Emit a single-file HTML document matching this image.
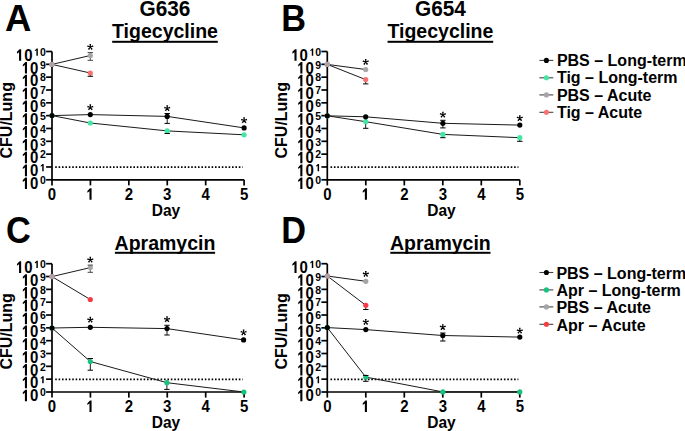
<!DOCTYPE html>
<html><head><meta charset="utf-8"><style>
html,body{margin:0;padding:0;background:#fff;overflow:hidden;}
svg{display:block;}
text{font-family:"Liberation Sans", sans-serif;font-weight:bold;fill:#000;}
</style></head><body>
<svg width="685" height="431" viewBox="0 0 685 431">
<rect width="685" height="431" fill="#fff"/>
<text x="4.95" y="31.3" font-size="36.5">A</text>
<text transform="translate(165 15.5) scale(1.0 1.04)" font-size="20.8" text-anchor="middle">G636</text>
<text x="165" y="38" font-size="19.5" text-anchor="middle">Tigecycline</text>
<rect x="112.19" y="40.8" width="105.61" height="2.0" fill="#000"/>
<g stroke="#000" stroke-width="1.7" fill="none">
<path d="M52 51.5V179.8H244.1"/>
<path d="M46.1 179.8H52"/>
<path d="M46.1 166.97H52"/>
<path d="M46.1 154.14H52"/>
<path d="M46.1 141.31H52"/>
<path d="M46.1 128.48H52"/>
<path d="M46.1 115.65H52"/>
<path d="M46.1 102.82H52"/>
<path d="M46.1 89.99H52"/>
<path d="M46.1 77.16H52"/>
<path d="M46.1 64.33H52"/>
<path d="M46.1 51.5H52"/>
<path d="M52 179.8V185.4"/>
<path d="M90.42 179.8V185.4"/>
<path d="M128.84 179.8V185.4"/>
<path d="M167.26 179.8V185.4"/>
<path d="M205.68 179.8V185.4"/>
<path d="M244.1 179.8V185.4"/>
</g>
<path d="M55.2 167.17H242.7" stroke="#000" stroke-width="1.6" stroke-dasharray="1.6 1.8"/>
<text x="39.96" y="184" font-size="10.5">0</text>
<path transform="translate(21.68 189) scale(15 -16.8)" d="M0.355 0L0.355 0.688L0.25 0.688L0.075 0.53L0.075 0.42L0.215 0.51L0.215 0Z"/>
<text transform="translate(30.02 189) scale(1.0 1.12)" font-size="15">0</text>
<path transform="translate(39.96 171.17) scale(10.5 -10.5)" d="M0.355 0L0.355 0.688L0.25 0.688L0.075 0.53L0.075 0.42L0.215 0.51L0.215 0Z"/>
<path transform="translate(21.68 176.17) scale(15 -16.8)" d="M0.355 0L0.355 0.688L0.25 0.688L0.075 0.53L0.075 0.42L0.215 0.51L0.215 0Z"/>
<text transform="translate(30.02 176.17) scale(1.0 1.12)" font-size="15">0</text>
<text x="39.96" y="158.34" font-size="10.5">2</text>
<path transform="translate(21.68 163.34) scale(15 -16.8)" d="M0.355 0L0.355 0.688L0.25 0.688L0.075 0.53L0.075 0.42L0.215 0.51L0.215 0Z"/>
<text transform="translate(30.02 163.34) scale(1.0 1.12)" font-size="15">0</text>
<text x="39.96" y="145.51" font-size="10.5">3</text>
<path transform="translate(21.68 150.51) scale(15 -16.8)" d="M0.355 0L0.355 0.688L0.25 0.688L0.075 0.53L0.075 0.42L0.215 0.51L0.215 0Z"/>
<text transform="translate(30.02 150.51) scale(1.0 1.12)" font-size="15">0</text>
<text x="39.96" y="132.68" font-size="10.5">4</text>
<path transform="translate(21.68 137.68) scale(15 -16.8)" d="M0.355 0L0.355 0.688L0.25 0.688L0.075 0.53L0.075 0.42L0.215 0.51L0.215 0Z"/>
<text transform="translate(30.02 137.68) scale(1.0 1.12)" font-size="15">0</text>
<text x="39.96" y="119.85" font-size="10.5">5</text>
<path transform="translate(21.68 124.85) scale(15 -16.8)" d="M0.355 0L0.355 0.688L0.25 0.688L0.075 0.53L0.075 0.42L0.215 0.51L0.215 0Z"/>
<text transform="translate(30.02 124.85) scale(1.0 1.12)" font-size="15">0</text>
<text x="39.96" y="107.02" font-size="10.5">6</text>
<path transform="translate(21.68 112.02) scale(15 -16.8)" d="M0.355 0L0.355 0.688L0.25 0.688L0.075 0.53L0.075 0.42L0.215 0.51L0.215 0Z"/>
<text transform="translate(30.02 112.02) scale(1.0 1.12)" font-size="15">0</text>
<text x="39.96" y="94.19" font-size="10.5">7</text>
<path transform="translate(21.68 99.19) scale(15 -16.8)" d="M0.355 0L0.355 0.688L0.25 0.688L0.075 0.53L0.075 0.42L0.215 0.51L0.215 0Z"/>
<text transform="translate(30.02 99.19) scale(1.0 1.12)" font-size="15">0</text>
<text x="39.96" y="81.36" font-size="10.5">8</text>
<path transform="translate(21.68 86.36) scale(15 -16.8)" d="M0.355 0L0.355 0.688L0.25 0.688L0.075 0.53L0.075 0.42L0.215 0.51L0.215 0Z"/>
<text transform="translate(30.02 86.36) scale(1.0 1.12)" font-size="15">0</text>
<text x="39.96" y="68.53" font-size="10.5">9</text>
<path transform="translate(21.68 73.53) scale(15 -16.8)" d="M0.355 0L0.355 0.688L0.25 0.688L0.075 0.53L0.075 0.42L0.215 0.51L0.215 0Z"/>
<text transform="translate(30.02 73.53) scale(1.0 1.12)" font-size="15">0</text>
<path transform="translate(34.12 55.7) scale(10.5 -10.5)" d="M0.355 0L0.355 0.688L0.25 0.688L0.075 0.53L0.075 0.42L0.215 0.51L0.215 0Z"/>
<text x="39.96" y="55.7" font-size="10.5">0</text>
<path transform="translate(15.84 60.7) scale(15 -16.8)" d="M0.355 0L0.355 0.688L0.25 0.688L0.075 0.53L0.075 0.42L0.215 0.51L0.215 0Z"/>
<text transform="translate(24.18 60.7) scale(1.0 1.12)" font-size="15">0</text>
<text transform="translate(47.83 199.7) scale(1.0 1.1)" font-size="15">0</text>
<path transform="translate(86.25 199.7) scale(15 -16.5)" d="M0.355 0L0.355 0.688L0.25 0.688L0.075 0.53L0.075 0.42L0.215 0.51L0.215 0Z"/>
<text transform="translate(124.67 199.7) scale(1.0 1.1)" font-size="15">2</text>
<text transform="translate(163.09 199.7) scale(1.0 1.1)" font-size="15">3</text>
<text transform="translate(201.51 199.7) scale(1.0 1.1)" font-size="15">4</text>
<text transform="translate(239.93 199.7) scale(1.0 1.1)" font-size="15">5</text>
<text transform="translate(166 215.6) scale(1.0 1.06)" font-size="15.5" text-anchor="middle">Day</text>
<text transform="translate(11.6 120.3) rotate(-90)" font-size="16" text-anchor="middle">CFU/Lung</text>
<path d="M90.3 52.6V60.3" stroke="#444" stroke-width="0.9"/>
<path d="M90.3 73V76.3" stroke="#000" stroke-width="0.9"/>
<path d="M167.2 113.5V123.4" stroke="#000" stroke-width="0.9"/>
<path d="M167.2 130.9V133.5" stroke="#000" stroke-width="0.9"/>
<path d="M52 115.6 L90.3 123 L167.2 130.9 L244.1 134.8" stroke="#1a1a1a" stroke-width="1" fill="none"/>
<path d="M52 115.6 L90.3 114.6 L167.2 116.4 L244.1 127.9" stroke="#1a1a1a" stroke-width="1" fill="none"/>
<path d="M52 64.4 L90.3 73" stroke="#1a1a1a" stroke-width="1" fill="none"/>
<path d="M52 64.4 L90.3 55.5" stroke="#1a1a1a" stroke-width="1" fill="none"/>
<circle cx="52" cy="115.6" r="2.6" fill="#44e6a6"/>
<circle cx="90.3" cy="123" r="2.6" fill="#44e6a6"/>
<circle cx="167.2" cy="130.9" r="2.6" fill="#44e6a6"/>
<circle cx="244.1" cy="134.8" r="2.6" fill="#44e6a6"/>
<circle cx="52" cy="115.6" r="2.6" fill="#000"/>
<circle cx="90.3" cy="114.6" r="2.6" fill="#000"/>
<circle cx="167.2" cy="116.4" r="2.6" fill="#000"/>
<circle cx="244.1" cy="127.9" r="2.6" fill="#000"/>
<circle cx="52" cy="64.4" r="2.6" fill="#f9706f"/>
<circle cx="90.3" cy="73" r="2.6" fill="#f9706f"/>
<circle cx="52" cy="64.4" r="2.6" fill="#a5a5aa"/>
<circle cx="90.3" cy="55.5" r="2.6" fill="#a5a5aa"/>
<path d="M87.6 52.6H93M87.6 60.3H93" stroke="#444" stroke-width="1"/>
<path d="M87.6 76.3H93" stroke="#000" stroke-width="1"/>
<path d="M164.5 113.5H169.9M164.5 123.4H169.9" stroke="#000" stroke-width="1"/>
<path d="M164.5 133.5H169.9" stroke="#000" stroke-width="1"/>
<path d="M90.65 47L91.15 43.95L89.45 43.95L89.95 47ZM90.41 47.33L93.46 46.87L92.94 45.25L90.19 46.67ZM90.02 47.21L91.41 49.97L92.78 48.97L90.58 46.79ZM90.02 46.79L87.82 48.97L89.19 49.97L90.58 47.21ZM90.41 46.67L87.66 45.25L87.14 46.87L90.19 47.33Z" fill="#000"/>
<path d="M90.65 107.4L91.15 104.35L89.45 104.35L89.95 107.4ZM90.41 107.73L93.46 107.27L92.94 105.65L90.19 107.07ZM90.02 107.61L91.41 110.37L92.78 109.37L90.58 107.19ZM90.02 107.19L87.82 109.37L89.19 110.37L90.58 107.61ZM90.41 107.07L87.66 105.65L87.14 107.27L90.19 107.73Z" fill="#000"/>
<path d="M167.55 108.4L168.05 105.35L166.35 105.35L166.85 108.4ZM167.31 108.73L170.36 108.27L169.84 106.65L167.09 108.07ZM166.92 108.61L168.31 111.37L169.68 110.37L167.48 108.19ZM166.92 108.19L164.72 110.37L166.09 111.37L167.48 108.61ZM167.31 108.07L164.56 106.65L164.04 108.27L167.09 108.73Z" fill="#000"/>
<path d="M244.45 120.4L244.95 117.35L243.25 117.35L243.75 120.4ZM244.21 120.73L247.26 120.27L246.74 118.65L243.99 120.07ZM243.82 120.61L245.21 123.37L246.58 122.37L244.38 120.19ZM243.82 120.19L241.62 122.37L242.99 123.37L244.38 120.61ZM244.21 120.07L241.46 118.65L240.94 120.27L243.99 120.73Z" fill="#000"/>
<text transform="translate(281.3 31.3) scale(0.94 1.0)" font-size="36.5">B</text>
<text transform="translate(440.4 15.5) scale(1.0 1.04)" font-size="20.8" text-anchor="middle">G654</text>
<text x="440.4" y="38" font-size="19.5" text-anchor="middle">Tigecycline</text>
<rect x="387.59" y="40.8" width="105.61" height="2.0" fill="#000"/>
<g stroke="#000" stroke-width="1.7" fill="none">
<path d="M327.3 51.5V179.8H519.8"/>
<path d="M321.4 179.8H327.3"/>
<path d="M321.4 166.97H327.3"/>
<path d="M321.4 154.14H327.3"/>
<path d="M321.4 141.31H327.3"/>
<path d="M321.4 128.48H327.3"/>
<path d="M321.4 115.65H327.3"/>
<path d="M321.4 102.82H327.3"/>
<path d="M321.4 89.99H327.3"/>
<path d="M321.4 77.16H327.3"/>
<path d="M321.4 64.33H327.3"/>
<path d="M321.4 51.5H327.3"/>
<path d="M327.3 179.8V185.4"/>
<path d="M365.8 179.8V185.4"/>
<path d="M404.3 179.8V185.4"/>
<path d="M442.8 179.8V185.4"/>
<path d="M481.3 179.8V185.4"/>
<path d="M519.8 179.8V185.4"/>
</g>
<path d="M330.5 167.17H518.4" stroke="#000" stroke-width="1.6" stroke-dasharray="1.6 1.8"/>
<text x="315.36" y="184" font-size="10.5">0</text>
<path transform="translate(297.08 189) scale(15 -16.8)" d="M0.355 0L0.355 0.688L0.25 0.688L0.075 0.53L0.075 0.42L0.215 0.51L0.215 0Z"/>
<text transform="translate(305.42 189) scale(1.0 1.12)" font-size="15">0</text>
<path transform="translate(315.36 171.17) scale(10.5 -10.5)" d="M0.355 0L0.355 0.688L0.25 0.688L0.075 0.53L0.075 0.42L0.215 0.51L0.215 0Z"/>
<path transform="translate(297.08 176.17) scale(15 -16.8)" d="M0.355 0L0.355 0.688L0.25 0.688L0.075 0.53L0.075 0.42L0.215 0.51L0.215 0Z"/>
<text transform="translate(305.42 176.17) scale(1.0 1.12)" font-size="15">0</text>
<text x="315.36" y="158.34" font-size="10.5">2</text>
<path transform="translate(297.08 163.34) scale(15 -16.8)" d="M0.355 0L0.355 0.688L0.25 0.688L0.075 0.53L0.075 0.42L0.215 0.51L0.215 0Z"/>
<text transform="translate(305.42 163.34) scale(1.0 1.12)" font-size="15">0</text>
<text x="315.36" y="145.51" font-size="10.5">3</text>
<path transform="translate(297.08 150.51) scale(15 -16.8)" d="M0.355 0L0.355 0.688L0.25 0.688L0.075 0.53L0.075 0.42L0.215 0.51L0.215 0Z"/>
<text transform="translate(305.42 150.51) scale(1.0 1.12)" font-size="15">0</text>
<text x="315.36" y="132.68" font-size="10.5">4</text>
<path transform="translate(297.08 137.68) scale(15 -16.8)" d="M0.355 0L0.355 0.688L0.25 0.688L0.075 0.53L0.075 0.42L0.215 0.51L0.215 0Z"/>
<text transform="translate(305.42 137.68) scale(1.0 1.12)" font-size="15">0</text>
<text x="315.36" y="119.85" font-size="10.5">5</text>
<path transform="translate(297.08 124.85) scale(15 -16.8)" d="M0.355 0L0.355 0.688L0.25 0.688L0.075 0.53L0.075 0.42L0.215 0.51L0.215 0Z"/>
<text transform="translate(305.42 124.85) scale(1.0 1.12)" font-size="15">0</text>
<text x="315.36" y="107.02" font-size="10.5">6</text>
<path transform="translate(297.08 112.02) scale(15 -16.8)" d="M0.355 0L0.355 0.688L0.25 0.688L0.075 0.53L0.075 0.42L0.215 0.51L0.215 0Z"/>
<text transform="translate(305.42 112.02) scale(1.0 1.12)" font-size="15">0</text>
<text x="315.36" y="94.19" font-size="10.5">7</text>
<path transform="translate(297.08 99.19) scale(15 -16.8)" d="M0.355 0L0.355 0.688L0.25 0.688L0.075 0.53L0.075 0.42L0.215 0.51L0.215 0Z"/>
<text transform="translate(305.42 99.19) scale(1.0 1.12)" font-size="15">0</text>
<text x="315.36" y="81.36" font-size="10.5">8</text>
<path transform="translate(297.08 86.36) scale(15 -16.8)" d="M0.355 0L0.355 0.688L0.25 0.688L0.075 0.53L0.075 0.42L0.215 0.51L0.215 0Z"/>
<text transform="translate(305.42 86.36) scale(1.0 1.12)" font-size="15">0</text>
<text x="315.36" y="68.53" font-size="10.5">9</text>
<path transform="translate(297.08 73.53) scale(15 -16.8)" d="M0.355 0L0.355 0.688L0.25 0.688L0.075 0.53L0.075 0.42L0.215 0.51L0.215 0Z"/>
<text transform="translate(305.42 73.53) scale(1.0 1.12)" font-size="15">0</text>
<path transform="translate(309.52 55.7) scale(10.5 -10.5)" d="M0.355 0L0.355 0.688L0.25 0.688L0.075 0.53L0.075 0.42L0.215 0.51L0.215 0Z"/>
<text x="315.36" y="55.7" font-size="10.5">0</text>
<path transform="translate(291.24 60.7) scale(15 -16.8)" d="M0.355 0L0.355 0.688L0.25 0.688L0.075 0.53L0.075 0.42L0.215 0.51L0.215 0Z"/>
<text transform="translate(299.58 60.7) scale(1.0 1.12)" font-size="15">0</text>
<text transform="translate(323.13 199.7) scale(1.0 1.1)" font-size="15">0</text>
<path transform="translate(361.63 199.7) scale(15 -16.5)" d="M0.355 0L0.355 0.688L0.25 0.688L0.075 0.53L0.075 0.42L0.215 0.51L0.215 0Z"/>
<text transform="translate(400.13 199.7) scale(1.0 1.1)" font-size="15">2</text>
<text transform="translate(438.63 199.7) scale(1.0 1.1)" font-size="15">3</text>
<text transform="translate(477.13 199.7) scale(1.0 1.1)" font-size="15">4</text>
<text transform="translate(515.63 199.7) scale(1.0 1.1)" font-size="15">5</text>
<text transform="translate(441.4 215.6) scale(1.0 1.06)" font-size="15.5" text-anchor="middle">Day</text>
<text transform="translate(287 120.3) rotate(-90)" font-size="16" text-anchor="middle">CFU/Lung</text>
<path d="M365.7 79.6V83.9" stroke="#000" stroke-width="0.9"/>
<path d="M365.7 121.7V128.3" stroke="#000" stroke-width="0.9"/>
<path d="M442.9 120.3V127.9" stroke="#000" stroke-width="0.9"/>
<path d="M442.9 134.4V137.7" stroke="#000" stroke-width="0.9"/>
<path d="M519.8 137.7V141.3" stroke="#000" stroke-width="0.9"/>
<path d="M327.3 115.8 L365.7 121.7 L442.9 134.4 L519.8 137.7" stroke="#1a1a1a" stroke-width="1" fill="none"/>
<path d="M327.3 115.8 L365.7 116.8 L442.9 123.3 L519.8 125.1" stroke="#1a1a1a" stroke-width="1" fill="none"/>
<path d="M327.3 64.4 L365.7 79.6" stroke="#1a1a1a" stroke-width="1" fill="none"/>
<path d="M327.3 64.4 L365.7 69.5" stroke="#1a1a1a" stroke-width="1" fill="none"/>
<circle cx="327.3" cy="115.8" r="2.6" fill="#44e6a6"/>
<circle cx="365.7" cy="121.7" r="2.6" fill="#44e6a6"/>
<circle cx="442.9" cy="134.4" r="2.6" fill="#44e6a6"/>
<circle cx="519.8" cy="137.7" r="2.6" fill="#44e6a6"/>
<circle cx="327.3" cy="115.8" r="2.6" fill="#000"/>
<circle cx="365.7" cy="116.8" r="2.6" fill="#000"/>
<circle cx="442.9" cy="123.3" r="2.6" fill="#000"/>
<circle cx="519.8" cy="125.1" r="2.6" fill="#000"/>
<circle cx="327.3" cy="64.4" r="2.6" fill="#f9706f"/>
<circle cx="365.7" cy="79.6" r="2.6" fill="#f9706f"/>
<circle cx="327.3" cy="64.4" r="2.6" fill="#a5a5aa"/>
<circle cx="365.7" cy="69.5" r="2.6" fill="#a5a5aa"/>
<path d="M363 83.9H368.4" stroke="#000" stroke-width="1"/>
<path d="M363 128.3H368.4" stroke="#000" stroke-width="1"/>
<path d="M440.2 120.3H445.6M440.2 127.9H445.6" stroke="#000" stroke-width="1"/>
<path d="M440.2 137.7H445.6" stroke="#000" stroke-width="1"/>
<path d="M517.1 141.3H522.5" stroke="#000" stroke-width="1"/>
<path d="M366.05 62L366.55 58.95L364.85 58.95L365.35 62ZM365.81 62.33L368.86 61.87L368.34 60.25L365.59 61.67ZM365.42 62.21L366.81 64.97L368.18 63.97L365.98 61.79ZM365.42 61.79L363.22 63.97L364.59 64.97L365.98 62.21ZM365.81 61.67L363.06 60.25L362.54 61.87L365.59 62.33Z" fill="#000"/>
<path d="M443.25 114.7L443.75 111.65L442.05 111.65L442.55 114.7ZM443.01 115.03L446.06 114.57L445.54 112.95L442.79 114.37ZM442.62 114.91L444.01 117.67L445.38 116.67L443.18 114.49ZM442.62 114.49L440.42 116.67L441.79 117.67L443.18 114.91ZM443.01 114.37L440.26 112.95L439.74 114.57L442.79 115.03Z" fill="#000"/>
<path d="M520.15 118.2L520.65 115.15L518.95 115.15L519.45 118.2ZM519.91 118.53L522.96 118.07L522.44 116.45L519.69 117.87ZM519.52 118.41L520.91 121.17L522.28 120.17L520.08 117.99ZM519.52 117.99L517.32 120.17L518.69 121.17L520.08 118.41ZM519.91 117.87L517.16 116.45L516.64 118.07L519.69 118.53Z" fill="#000"/>
<text transform="translate(5.9 243) scale(0.94 1.0)" font-size="36.5">C</text>
<text x="165" y="250.2" font-size="19.5" text-anchor="middle">Apramycin</text>
<rect x="114.91" y="251.8" width="100.18" height="2.0" fill="#000"/>
<g stroke="#000" stroke-width="1.7" fill="none">
<path d="M52 263.7V392H244.1"/>
<path d="M46.1 392H52"/>
<path d="M46.1 379.17H52"/>
<path d="M46.1 366.34H52"/>
<path d="M46.1 353.51H52"/>
<path d="M46.1 340.68H52"/>
<path d="M46.1 327.85H52"/>
<path d="M46.1 315.02H52"/>
<path d="M46.1 302.19H52"/>
<path d="M46.1 289.36H52"/>
<path d="M46.1 276.53H52"/>
<path d="M46.1 263.7H52"/>
<path d="M52 392V397.6"/>
<path d="M90.42 392V397.6"/>
<path d="M128.84 392V397.6"/>
<path d="M167.26 392V397.6"/>
<path d="M205.68 392V397.6"/>
<path d="M244.1 392V397.6"/>
</g>
<path d="M55.2 379.37H242.7" stroke="#000" stroke-width="1.6" stroke-dasharray="1.6 1.8"/>
<text x="39.96" y="396.2" font-size="10.5">0</text>
<path transform="translate(21.68 401.2) scale(15 -16.8)" d="M0.355 0L0.355 0.688L0.25 0.688L0.075 0.53L0.075 0.42L0.215 0.51L0.215 0Z"/>
<text transform="translate(30.02 401.2) scale(1.0 1.12)" font-size="15">0</text>
<path transform="translate(39.96 383.37) scale(10.5 -10.5)" d="M0.355 0L0.355 0.688L0.25 0.688L0.075 0.53L0.075 0.42L0.215 0.51L0.215 0Z"/>
<path transform="translate(21.68 388.37) scale(15 -16.8)" d="M0.355 0L0.355 0.688L0.25 0.688L0.075 0.53L0.075 0.42L0.215 0.51L0.215 0Z"/>
<text transform="translate(30.02 388.37) scale(1.0 1.12)" font-size="15">0</text>
<text x="39.96" y="370.54" font-size="10.5">2</text>
<path transform="translate(21.68 375.54) scale(15 -16.8)" d="M0.355 0L0.355 0.688L0.25 0.688L0.075 0.53L0.075 0.42L0.215 0.51L0.215 0Z"/>
<text transform="translate(30.02 375.54) scale(1.0 1.12)" font-size="15">0</text>
<text x="39.96" y="357.71" font-size="10.5">3</text>
<path transform="translate(21.68 362.71) scale(15 -16.8)" d="M0.355 0L0.355 0.688L0.25 0.688L0.075 0.53L0.075 0.42L0.215 0.51L0.215 0Z"/>
<text transform="translate(30.02 362.71) scale(1.0 1.12)" font-size="15">0</text>
<text x="39.96" y="344.88" font-size="10.5">4</text>
<path transform="translate(21.68 349.88) scale(15 -16.8)" d="M0.355 0L0.355 0.688L0.25 0.688L0.075 0.53L0.075 0.42L0.215 0.51L0.215 0Z"/>
<text transform="translate(30.02 349.88) scale(1.0 1.12)" font-size="15">0</text>
<text x="39.96" y="332.05" font-size="10.5">5</text>
<path transform="translate(21.68 337.05) scale(15 -16.8)" d="M0.355 0L0.355 0.688L0.25 0.688L0.075 0.53L0.075 0.42L0.215 0.51L0.215 0Z"/>
<text transform="translate(30.02 337.05) scale(1.0 1.12)" font-size="15">0</text>
<text x="39.96" y="319.22" font-size="10.5">6</text>
<path transform="translate(21.68 324.22) scale(15 -16.8)" d="M0.355 0L0.355 0.688L0.25 0.688L0.075 0.53L0.075 0.42L0.215 0.51L0.215 0Z"/>
<text transform="translate(30.02 324.22) scale(1.0 1.12)" font-size="15">0</text>
<text x="39.96" y="306.39" font-size="10.5">7</text>
<path transform="translate(21.68 311.39) scale(15 -16.8)" d="M0.355 0L0.355 0.688L0.25 0.688L0.075 0.53L0.075 0.42L0.215 0.51L0.215 0Z"/>
<text transform="translate(30.02 311.39) scale(1.0 1.12)" font-size="15">0</text>
<text x="39.96" y="293.56" font-size="10.5">8</text>
<path transform="translate(21.68 298.56) scale(15 -16.8)" d="M0.355 0L0.355 0.688L0.25 0.688L0.075 0.53L0.075 0.42L0.215 0.51L0.215 0Z"/>
<text transform="translate(30.02 298.56) scale(1.0 1.12)" font-size="15">0</text>
<text x="39.96" y="280.73" font-size="10.5">9</text>
<path transform="translate(21.68 285.73) scale(15 -16.8)" d="M0.355 0L0.355 0.688L0.25 0.688L0.075 0.53L0.075 0.42L0.215 0.51L0.215 0Z"/>
<text transform="translate(30.02 285.73) scale(1.0 1.12)" font-size="15">0</text>
<path transform="translate(34.12 267.9) scale(10.5 -10.5)" d="M0.355 0L0.355 0.688L0.25 0.688L0.075 0.53L0.075 0.42L0.215 0.51L0.215 0Z"/>
<text x="39.96" y="267.9" font-size="10.5">0</text>
<path transform="translate(15.84 272.9) scale(15 -16.8)" d="M0.355 0L0.355 0.688L0.25 0.688L0.075 0.53L0.075 0.42L0.215 0.51L0.215 0Z"/>
<text transform="translate(24.18 272.9) scale(1.0 1.12)" font-size="15">0</text>
<text transform="translate(47.83 411.9) scale(1.0 1.1)" font-size="15">0</text>
<path transform="translate(86.25 411.9) scale(15 -16.5)" d="M0.355 0L0.355 0.688L0.25 0.688L0.075 0.53L0.075 0.42L0.215 0.51L0.215 0Z"/>
<text transform="translate(124.67 411.9) scale(1.0 1.1)" font-size="15">2</text>
<text transform="translate(163.09 411.9) scale(1.0 1.1)" font-size="15">3</text>
<text transform="translate(201.51 411.9) scale(1.0 1.1)" font-size="15">4</text>
<text transform="translate(239.93 411.9) scale(1.0 1.1)" font-size="15">5</text>
<text transform="translate(166 427.8) scale(1.0 1.06)" font-size="15.5" text-anchor="middle">Day</text>
<text transform="translate(11.6 331.4) rotate(-90)" font-size="16" text-anchor="middle">CFU/Lung</text>
<path d="M90.3 265.1V272.3" stroke="#444" stroke-width="0.9"/>
<path d="M167 325.3V335" stroke="#000" stroke-width="0.9"/>
<path d="M90.3 358.5V370.2" stroke="#000" stroke-width="0.9"/>
<path d="M166.9 382.7V389.4" stroke="#000" stroke-width="0.9"/>
<path d="M52 328 L90.3 361.5 L166.9 382.7 L243.9 392" stroke="#1a1a1a" stroke-width="1" fill="none"/>
<path d="M52 328 L90.3 327.3 L167 328.6 L243.6 339.9" stroke="#1a1a1a" stroke-width="1" fill="none"/>
<path d="M52 276.6 L90.3 299.5" stroke="#1a1a1a" stroke-width="1" fill="none"/>
<path d="M52 276.6 L90.3 267.6" stroke="#1a1a1a" stroke-width="1" fill="none"/>
<circle cx="52" cy="328" r="2.6" fill="#18c27e"/>
<circle cx="90.3" cy="361.5" r="2.6" fill="#18c27e"/>
<circle cx="166.9" cy="382.7" r="2.6" fill="#18c27e"/>
<circle cx="243.9" cy="392" r="2.6" fill="#18c27e"/>
<circle cx="52" cy="328" r="2.6" fill="#000"/>
<circle cx="90.3" cy="327.3" r="2.6" fill="#000"/>
<circle cx="167" cy="328.6" r="2.6" fill="#000"/>
<circle cx="243.6" cy="339.9" r="2.6" fill="#000"/>
<circle cx="52" cy="276.6" r="2.6" fill="#f83a42"/>
<circle cx="90.3" cy="299.5" r="2.6" fill="#f83a42"/>
<circle cx="52" cy="276.6" r="2.6" fill="#a5a5aa"/>
<circle cx="90.3" cy="267.6" r="2.6" fill="#a5a5aa"/>
<path d="M87.6 265.1H93M87.6 272.3H93" stroke="#444" stroke-width="1"/>
<path d="M164.3 325.3H169.7M164.3 335H169.7" stroke="#000" stroke-width="1"/>
<path d="M87.6 358.5H93M87.6 370.2H93" stroke="#000" stroke-width="1"/>
<path d="M164.2 389.4H169.6" stroke="#000" stroke-width="1"/>
<path d="M90.65 259.9L91.15 256.85L89.45 256.85L89.95 259.9ZM90.41 260.23L93.46 259.77L92.94 258.15L90.19 259.57ZM90.02 260.11L91.41 262.87L92.78 261.87L90.58 259.69ZM90.02 259.69L87.82 261.87L89.19 262.87L90.58 260.11ZM90.41 259.57L87.66 258.15L87.14 259.77L90.19 260.23Z" fill="#000"/>
<path d="M90.65 319.9L91.15 316.85L89.45 316.85L89.95 319.9ZM90.41 320.23L93.46 319.77L92.94 318.15L90.19 319.57ZM90.02 320.11L91.41 322.87L92.78 321.87L90.58 319.69ZM90.02 319.69L87.82 321.87L89.19 322.87L90.58 320.11ZM90.41 319.57L87.66 318.15L87.14 319.77L90.19 320.23Z" fill="#000"/>
<path d="M167.35 319.4L167.85 316.35L166.15 316.35L166.65 319.4ZM167.11 319.73L170.16 319.27L169.64 317.65L166.89 319.07ZM166.72 319.61L168.11 322.37L169.48 321.37L167.28 319.19ZM166.72 319.19L164.52 321.37L165.89 322.37L167.28 319.61ZM167.11 319.07L164.36 317.65L163.84 319.27L166.89 319.73Z" fill="#000"/>
<path d="M243.95 332.5L244.45 329.45L242.75 329.45L243.25 332.5ZM243.71 332.83L246.76 332.37L246.24 330.75L243.49 332.17ZM243.32 332.71L244.71 335.47L246.08 334.47L243.88 332.29ZM243.32 332.29L241.12 334.47L242.49 335.47L243.88 332.71ZM243.71 332.17L240.96 330.75L240.44 332.37L243.49 332.83Z" fill="#000"/>
<text transform="translate(281.3 243) scale(0.94 1.0)" font-size="36.5">D</text>
<text x="440.4" y="250.2" font-size="19.5" text-anchor="middle">Apramycin</text>
<rect x="390.31" y="251.8" width="100.18" height="2.0" fill="#000"/>
<g stroke="#000" stroke-width="1.7" fill="none">
<path d="M327.3 263.7V392H519.8"/>
<path d="M321.4 392H327.3"/>
<path d="M321.4 379.17H327.3"/>
<path d="M321.4 366.34H327.3"/>
<path d="M321.4 353.51H327.3"/>
<path d="M321.4 340.68H327.3"/>
<path d="M321.4 327.85H327.3"/>
<path d="M321.4 315.02H327.3"/>
<path d="M321.4 302.19H327.3"/>
<path d="M321.4 289.36H327.3"/>
<path d="M321.4 276.53H327.3"/>
<path d="M321.4 263.7H327.3"/>
<path d="M327.3 392V397.6"/>
<path d="M365.8 392V397.6"/>
<path d="M404.3 392V397.6"/>
<path d="M442.8 392V397.6"/>
<path d="M481.3 392V397.6"/>
<path d="M519.8 392V397.6"/>
</g>
<path d="M330.5 379.37H518.4" stroke="#000" stroke-width="1.6" stroke-dasharray="1.6 1.8"/>
<text x="315.36" y="396.2" font-size="10.5">0</text>
<path transform="translate(297.08 401.2) scale(15 -16.8)" d="M0.355 0L0.355 0.688L0.25 0.688L0.075 0.53L0.075 0.42L0.215 0.51L0.215 0Z"/>
<text transform="translate(305.42 401.2) scale(1.0 1.12)" font-size="15">0</text>
<path transform="translate(315.36 383.37) scale(10.5 -10.5)" d="M0.355 0L0.355 0.688L0.25 0.688L0.075 0.53L0.075 0.42L0.215 0.51L0.215 0Z"/>
<path transform="translate(297.08 388.37) scale(15 -16.8)" d="M0.355 0L0.355 0.688L0.25 0.688L0.075 0.53L0.075 0.42L0.215 0.51L0.215 0Z"/>
<text transform="translate(305.42 388.37) scale(1.0 1.12)" font-size="15">0</text>
<text x="315.36" y="370.54" font-size="10.5">2</text>
<path transform="translate(297.08 375.54) scale(15 -16.8)" d="M0.355 0L0.355 0.688L0.25 0.688L0.075 0.53L0.075 0.42L0.215 0.51L0.215 0Z"/>
<text transform="translate(305.42 375.54) scale(1.0 1.12)" font-size="15">0</text>
<text x="315.36" y="357.71" font-size="10.5">3</text>
<path transform="translate(297.08 362.71) scale(15 -16.8)" d="M0.355 0L0.355 0.688L0.25 0.688L0.075 0.53L0.075 0.42L0.215 0.51L0.215 0Z"/>
<text transform="translate(305.42 362.71) scale(1.0 1.12)" font-size="15">0</text>
<text x="315.36" y="344.88" font-size="10.5">4</text>
<path transform="translate(297.08 349.88) scale(15 -16.8)" d="M0.355 0L0.355 0.688L0.25 0.688L0.075 0.53L0.075 0.42L0.215 0.51L0.215 0Z"/>
<text transform="translate(305.42 349.88) scale(1.0 1.12)" font-size="15">0</text>
<text x="315.36" y="332.05" font-size="10.5">5</text>
<path transform="translate(297.08 337.05) scale(15 -16.8)" d="M0.355 0L0.355 0.688L0.25 0.688L0.075 0.53L0.075 0.42L0.215 0.51L0.215 0Z"/>
<text transform="translate(305.42 337.05) scale(1.0 1.12)" font-size="15">0</text>
<text x="315.36" y="319.22" font-size="10.5">6</text>
<path transform="translate(297.08 324.22) scale(15 -16.8)" d="M0.355 0L0.355 0.688L0.25 0.688L0.075 0.53L0.075 0.42L0.215 0.51L0.215 0Z"/>
<text transform="translate(305.42 324.22) scale(1.0 1.12)" font-size="15">0</text>
<text x="315.36" y="306.39" font-size="10.5">7</text>
<path transform="translate(297.08 311.39) scale(15 -16.8)" d="M0.355 0L0.355 0.688L0.25 0.688L0.075 0.53L0.075 0.42L0.215 0.51L0.215 0Z"/>
<text transform="translate(305.42 311.39) scale(1.0 1.12)" font-size="15">0</text>
<text x="315.36" y="293.56" font-size="10.5">8</text>
<path transform="translate(297.08 298.56) scale(15 -16.8)" d="M0.355 0L0.355 0.688L0.25 0.688L0.075 0.53L0.075 0.42L0.215 0.51L0.215 0Z"/>
<text transform="translate(305.42 298.56) scale(1.0 1.12)" font-size="15">0</text>
<text x="315.36" y="280.73" font-size="10.5">9</text>
<path transform="translate(297.08 285.73) scale(15 -16.8)" d="M0.355 0L0.355 0.688L0.25 0.688L0.075 0.53L0.075 0.42L0.215 0.51L0.215 0Z"/>
<text transform="translate(305.42 285.73) scale(1.0 1.12)" font-size="15">0</text>
<path transform="translate(309.52 267.9) scale(10.5 -10.5)" d="M0.355 0L0.355 0.688L0.25 0.688L0.075 0.53L0.075 0.42L0.215 0.51L0.215 0Z"/>
<text x="315.36" y="267.9" font-size="10.5">0</text>
<path transform="translate(291.24 272.9) scale(15 -16.8)" d="M0.355 0L0.355 0.688L0.25 0.688L0.075 0.53L0.075 0.42L0.215 0.51L0.215 0Z"/>
<text transform="translate(299.58 272.9) scale(1.0 1.12)" font-size="15">0</text>
<text transform="translate(323.13 411.9) scale(1.0 1.1)" font-size="15">0</text>
<path transform="translate(361.63 411.9) scale(15 -16.5)" d="M0.355 0L0.355 0.688L0.25 0.688L0.075 0.53L0.075 0.42L0.215 0.51L0.215 0Z"/>
<text transform="translate(400.13 411.9) scale(1.0 1.1)" font-size="15">2</text>
<text transform="translate(438.63 411.9) scale(1.0 1.1)" font-size="15">3</text>
<text transform="translate(477.13 411.9) scale(1.0 1.1)" font-size="15">4</text>
<text transform="translate(515.63 411.9) scale(1.0 1.1)" font-size="15">5</text>
<text transform="translate(441.4 427.8) scale(1.0 1.06)" font-size="15.5" text-anchor="middle">Day</text>
<text transform="translate(287 331.4) rotate(-90)" font-size="16" text-anchor="middle">CFU/Lung</text>
<path d="M365.8 305.3V309.5" stroke="#000" stroke-width="0.9"/>
<path d="M365.8 375.5V381.3" stroke="#000" stroke-width="0.9"/>
<path d="M442.8 333V341" stroke="#000" stroke-width="0.9"/>
<path d="M327.3 327.6 L365.8 377.1 L442.8 391.9 L519.8 391.9" stroke="#1a1a1a" stroke-width="1" fill="none"/>
<path d="M327.3 327.6 L365.8 329.6 L442.8 335.5 L519.8 337.1" stroke="#1a1a1a" stroke-width="1" fill="none"/>
<path d="M327.3 276 L365.8 305.3" stroke="#1a1a1a" stroke-width="1" fill="none"/>
<path d="M327.3 276 L365.8 281.3" stroke="#1a1a1a" stroke-width="1" fill="none"/>
<circle cx="327.3" cy="327.6" r="2.6" fill="#18c27e"/>
<circle cx="365.8" cy="377.1" r="2.6" fill="#18c27e"/>
<circle cx="442.8" cy="391.9" r="2.6" fill="#18c27e"/>
<circle cx="519.8" cy="391.9" r="2.6" fill="#18c27e"/>
<circle cx="327.3" cy="327.6" r="2.6" fill="#000"/>
<circle cx="365.8" cy="329.6" r="2.6" fill="#000"/>
<circle cx="442.8" cy="335.5" r="2.6" fill="#000"/>
<circle cx="519.8" cy="337.1" r="2.6" fill="#000"/>
<circle cx="327.3" cy="276" r="2.6" fill="#f83a42"/>
<circle cx="365.8" cy="305.3" r="2.6" fill="#f83a42"/>
<circle cx="327.3" cy="276" r="2.6" fill="#a5a5aa"/>
<circle cx="365.8" cy="281.3" r="2.6" fill="#a5a5aa"/>
<path d="M363.1 309.5H368.5" stroke="#000" stroke-width="1"/>
<path d="M363.1 375.5H368.5M363.1 381.3H368.5" stroke="#000" stroke-width="1"/>
<path d="M440.1 333H445.5M440.1 341H445.5" stroke="#000" stroke-width="1"/>
<path d="M366.15 274.1L366.65 271.05L364.95 271.05L365.45 274.1ZM365.91 274.43L368.96 273.97L368.44 272.35L365.69 273.77ZM365.52 274.31L366.91 277.07L368.28 276.07L366.08 273.89ZM365.52 273.89L363.32 276.07L364.69 277.07L366.08 274.31ZM365.91 273.77L363.16 272.35L362.64 273.97L365.69 274.43Z" fill="#000"/>
<path d="M366.15 322L366.65 318.95L364.95 318.95L365.45 322ZM365.91 322.33L368.96 321.87L368.44 320.25L365.69 321.67ZM365.52 322.21L366.91 324.97L368.28 323.97L366.08 321.79ZM365.52 321.79L363.32 323.97L364.69 324.97L366.08 322.21ZM365.91 321.67L363.16 320.25L362.64 321.87L365.69 322.33Z" fill="#000"/>
<path d="M443.15 327.2L443.65 324.15L441.95 324.15L442.45 327.2ZM442.91 327.53L445.96 327.07L445.44 325.45L442.69 326.87ZM442.52 327.41L443.91 330.17L445.28 329.17L443.08 326.99ZM442.52 326.99L440.32 329.17L441.69 330.17L443.08 327.41ZM442.91 326.87L440.16 325.45L439.64 327.07L442.69 327.53Z" fill="#000"/>
<path d="M520.15 330.9L520.65 327.85L518.95 327.85L519.45 330.9ZM519.91 331.23L522.96 330.77L522.44 329.15L519.69 330.57ZM519.52 331.11L520.91 333.87L522.28 332.87L520.08 330.69ZM519.52 330.69L517.32 332.87L518.69 333.87L520.08 331.11ZM519.91 330.57L517.16 329.15L516.64 330.77L519.69 331.23Z" fill="#000"/>
<path d="M539.4 60.4H553.3" stroke="#444" stroke-width="1.1"/>
<circle cx="546.4" cy="60.4" r="2.55" fill="#000"/>
<text x="556.9" y="65.8" font-size="16">PBS – Long-term</text>
<path d="M539.4 77.8H553.3" stroke="#444" stroke-width="1.1"/>
<circle cx="546.4" cy="77.8" r="2.55" fill="#44e6a6"/>
<text x="556.9" y="83.1" font-size="16">Tig – Long-term</text>
<path d="M539.4 94.9H553.3" stroke="#444" stroke-width="1.1"/>
<circle cx="546.4" cy="94.9" r="2.55" fill="#a5a5aa"/>
<text x="556.9" y="100.8" font-size="16">PBS – Acute</text>
<path d="M539.4 112.3H553.3" stroke="#444" stroke-width="1.1"/>
<circle cx="546.4" cy="112.3" r="2.55" fill="#f9706f"/>
<text x="556.9" y="118.3" font-size="16">Tig – Acute</text>
<path d="M539.4 272.5H553.3" stroke="#444" stroke-width="1.1"/>
<circle cx="546.4" cy="272.5" r="2.55" fill="#000"/>
<text x="556.4" y="278.8" font-size="16">PBS – Long-term</text>
<path d="M539.4 289.9H553.3" stroke="#444" stroke-width="1.1"/>
<circle cx="546.4" cy="289.9" r="2.55" fill="#18c27e"/>
<text x="556.4" y="295.8" font-size="16">Apr – Long-term</text>
<path d="M539.4 306.9H553.3" stroke="#444" stroke-width="1.1"/>
<circle cx="546.4" cy="306.9" r="2.55" fill="#a5a5aa"/>
<text x="556.4" y="313.2" font-size="16">PBS – Acute</text>
<path d="M539.4 324.3H553.3" stroke="#444" stroke-width="1.1"/>
<circle cx="546.4" cy="324.3" r="2.55" fill="#f83a42"/>
<text x="556.4" y="330.6" font-size="16">Apr – Acute</text>
</svg>
</body></html>
